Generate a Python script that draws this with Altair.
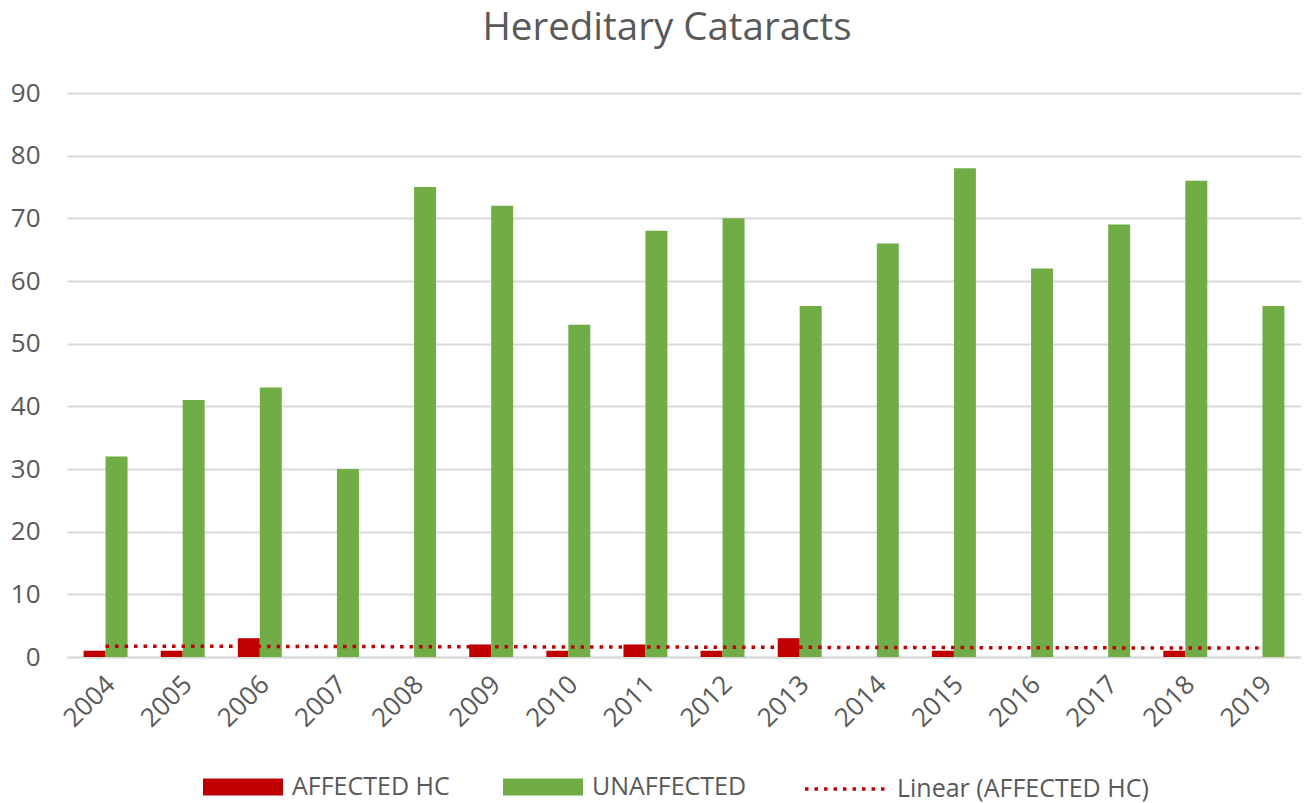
import altair as alt
import pandas as pd

TITLE = "Hereditary Cataracts"
YEARS = ["2004", "2005", "2006", "2007", "2008", "2009", "2010", "2011",
         "2012", "2013", "2014", "2015", "2016", "2017", "2018", "2019"]
# blank years (None) are empty cells, excluded from the trend line
AFFECTED = [1, 1, 3, None, None, 2, 1, 2, 1, 3, None, 1, None, None, 1, None]
UNAFFECTED = [32, 41, 43, 30, 75, 72, 53, 68, 70, 56, 66, 78, 62, 69, 76, 56]
SERIES = ["AFFECTED HC", "UNAFFECTED"]
COLORS = ["#C00000", "#70AD47"]
TREND_LABEL = "Linear (AFFECTED HC)"
Y_TICKS = [0, 10, 20, 30, 40, 50, 60, 70, 80, 90]

FONT = "Open Sans"
TEXT_COLOR = "#595959"
GRID_COLOR = "#D9D9D9"

rows = []
for i, yr in enumerate(YEARS):
    rows.append({"Year": yr, "Series": SERIES[0], "Value": AFFECTED[i]})
    rows.append({"Year": yr, "Series": SERIES[1], "Value": UNAFFECTED[i]})
df = pd.DataFrame(rows)

first_year = int(YEARS[0])
last_year = int(YEARS[-1])

bars = alt.Chart(df).mark_bar().encode(
    x=alt.X("Year:O", sort=YEARS,
            scale=alt.Scale(paddingInner=0.43, paddingOuter=0.215),
            axis=alt.Axis(title=None, labelAngle=-45, labelAlign="right",
                          labelBaseline="top", ticks=False, grid=False,
                          domain=True, domainColor=GRID_COLOR, domainWidth=2,
                          labelPadding=14, labelOffset=-4, labelFontSize=26)),
    xOffset=alt.XOffset("Series:N", sort=SERIES),
    y=alt.Y("Value:Q", scale=alt.Scale(domain=[0, 90], nice=False),
            axis=alt.Axis(title=None, values=Y_TICKS, ticks=False, domain=False,
                          grid=True, gridColor=GRID_COLOR, gridWidth=2,
                          labelPadding=27, labelFontSize=26)),
    color=alt.Color("Series:N", sort=SERIES,
                    scale=alt.Scale(domain=SERIES, range=COLORS),
                    legend=alt.Legend(title=None, orient="none", legendX=136, legendY=654,
                                      direction="horizontal",
                                      symbolType="M-1,-0.21H1V0.21H-1Z",
                                      symbolSize=6400, symbolStrokeWidth=0,
                                      labelFont=FONT, labelFontSize=25,
                                      labelColor=TEXT_COLOR, labelOffset=9,
                                      labelLimit=500, columnPadding=53)),
)

trend = alt.Chart(df).transform_filter(
    "isValid(datum.Value) && datum.Series === '" + SERIES[0] + "'"
).transform_calculate(
    yr="toNumber(datum.Year)"
).transform_regression(
    "yr", "Value", method="linear", extent=[first_year, last_year]
).transform_calculate(
    Trend="'" + TREND_LABEL + "'"
).mark_line(color="#C00000", strokeWidth=3.5, strokeCap="butt").encode(
    x=alt.X("yr:Q", scale=alt.Scale(domain=[first_year - 0.5, last_year + 0.5],
                                     nice=False, zero=False), axis=None),
    y=alt.Y("Value:Q"),
    strokeDash=alt.StrokeDash("Trend:N", scale=alt.Scale(range=[[3.5, 6]]),
                              legend=alt.Legend(title=None, orient="none",
                                                legendX=736, legendY=654,
                                                symbolType="stroke", symbolSize=6400,
                                                symbolStrokeColor="#C00000",
                                                symbolStrokeWidth=3.5,
                                                labelFont=FONT, labelFontSize=25,
                                                labelColor=TEXT_COLOR, labelOffset=10,
                                                labelLimit=500)),
)

chart = alt.layer(bars, trend).resolve_scale(
    x="independent"
).properties(
    width=1234, height=564,
    autosize=alt.AutoSizeParams(type="none"),
    padding={"left": 59, "top": 85, "right": 0, "bottom": 145},
    title=alt.TitleParams(TITLE, font=FONT, fontSize=38.5, fontWeight="normal",
                          color=TEXT_COLOR, anchor="middle", offset=32, dx=-17),
).configure_view(stroke=None).configure_axis(
    labelFont=FONT, labelColor=TEXT_COLOR
)

chart.save("out.html", embed_options={"renderer": "svg", "actions": False})
